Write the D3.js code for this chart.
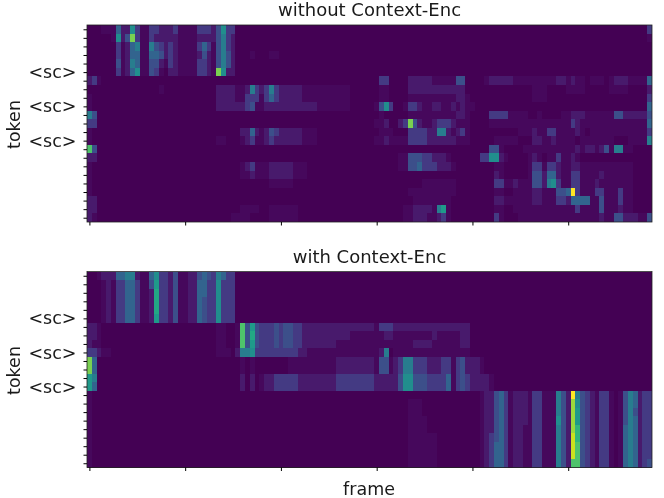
<!DOCTYPE html>
<html>
<head>
<meta charset="utf-8">
<script src="https://cdn.jsdelivr.net/npm/d3@7"></script>
<style>
  html, body { margin: 0; background: #fff; }
  svg { display: block; filter: blur(0.5px); }
  text { font-family: "DejaVu Sans", sans-serif; fill: #1a1a1a; }
</style>
</head>
<body>
<svg id="chart" width="664" height="498"></svg>
<script>
// attention maps, one string per token row, one hex digit per frame (0-f)
const withoutEnc = [
  '0001115227 3113322231 1113332473 3000000000 0000000000 0000000000 0000000000 0000000000 0000000000 0000000000 0000000000 00000003',
  '000001724c 3113222221 1112222463 2000000000 0000000000 0000000000 0000000000 0000000000 0000000000 0000000000 0000000000 00000001',
  '0000003125 6116432321 1113531463 2000000000 0000000000 0000000000 0000000000 0000000000 0000000000 0000000000 0000000000 00000000',
  '0000003125 5115542321 1112421464 2000100011 0000000000 0000000000 0000000000 0000000000 0000000000 0000000000 0000000000 00000000',
  '0000004126 5114421321 1113321464 2000000000 0000000000 0000000000 0000000000 0000000000 0000000000 0000000000 0000000000 00000000',
  '0000003125 7114310221 1113321c72 2000000000 0000000000 0000000000 0000000000 0000000000 0000000000 0000000000 0000000000 00000000',
  '2310000000 0000000000 0000000000 0000000000 0000000000 0000000000 0330000222 2211111440 0001222221 1111111122 1211011101 22211115',
  '0000000000 0000010000 0000000222 2112632363 2222211111 1111100000 0110000222 2222222220 0000000000 0001110000 1111000001 11100002',
  '1000000000 0000000000 0000000222 2113331353 2222211111 1111100000 0110000111 1111111221 0000000000 0001110000 0000000000 00000003',
  '1000000000 0000000000 0000000222 2223411222 2222222211 1111100000 1473001332 1122112121 1000000000 0000000000 0000000000 00000005',
  '6400000000 0000000000 0000000000 0000000000 0000000000 0000000000 0100000111 1111111221 0000333311 1100100001 1222111111 44222224',
  '3300000000 0000000000 0000000000 0000000000 0000000000 0000000000 1120023c42 1123332111 0000111111 1111111111 1321111111 11111115',
  '1000000000 0000000000 0000000000 0022521243 2222211100 0000000000 0111000333 3226621231 0000000000 1112113311 1121011111 11111113',
  '1000000000 0000000000 0000000110 0012311232 2222211100 0000000000 1121111333 3222222111 0000011111 0002211211 1101111111 00011116',
  'b400000000 0000000000 0000000000 0000000000 0000000000 0000000000 0000000000 0000000000 0000441000 0111111111 1121221241 66110000',
  '2200000000 0000000000 0000000000 0000000000 0000000000 0000000000 0000011444 3322210000 0033772100 0012101131 1210000000 00000000',
  '1000000000 0000000000 0000000000 0012311122 2221110000 0000000000 0000011445 3332221000 0000011000 0013313321 1221111111 11110000',
  '1000000000 0000000000 0000000000 0011211122 2221110000 0000000000 0000000000 0000000000 0000021000 0014425521 1331111211 11110000',
  '1000000000 0000000000 0000000000 0000000011 1110000000 0000000000 0000000000 1111111000 0000033112 1114426731 1331112111 11110000',
  '1000000000 0000000000 0000000000 0000000000 0000000000 0000000000 0000000111 1111111000 0000011001 1112211144 5f31113311 13110000',
  '2200000000 0000000000 0000000000 0000000000 0000000000 0000000000 0000000011 1111110000 0000022111 1112211133 2555511411 13110000',
  '2200000000 0000000000 0000000000 0011110011 1111000000 0000000000 0000001122 2216810000 0000011001 1111111111 1131111411 12110000',
  '2100000000 0000000000 0000000000 1111000011 1111000000 0000000000 0000001122 2112310000 0000031000 1111111111 1111111211 44222114'
];
const withEnc = [
  '0012225566 2115733241 1224543653 3000000000 0000000000 0000000000 0000000000 0000000000 0000000000 0000000000 0000000000 00000000',
  '0001213355 3114833241 1225533733 3000000000 0000000000 0000000000 0000000000 0000000000 0000000000 0000000000 0000000000 00000000',
  '0001213355 3112933241 1225533733 3000000000 0000000000 0000000000 0000000000 0000000000 0000000000 0000000000 0000000000 00000000',
  '0001213355 3112933241 1225433733 3000000000 0000000000 0000000000 0000000000 0000000000 0000000000 0000000000 0000000000 00000000',
  '0001213355 3112933241 1225433733 3000000000 0000000000 0000000000 0000000000 0000000000 0000000000 0000000000 0000000000 00000000',
  '0001213355 3112833241 1225433733 3000000000 0000000000 0000000000 0000000000 0000000000 0000000000 0000000000 0000000000 00000000',
  '2210000000 0000000000 0000000110 01b4843334 3443322222 2222222222 1333222222 2222222222 0000000000 0000000000 0000000000 00000000',
  '2210000000 0000000000 0000000110 01b4943334 3443322222 2222211111 1122111111 1121111122 0000000000 0000000000 0000000000 00000000',
  '2110000000 0000000000 0000000110 01b4843334 3443322222 2211111111 1111111122 2211111122 0000000000 0000000000 0000000000 00000000',
  '3321100000 0000000000 0000000111 0266733333 3333221111 1111111111 1260111111 1111111111 0000000000 0000000000 0000000000 00000000',
  'c500000000 0000000000 0000000000 0010100000 0011111111 1122222222 1441236633 3222331342 2210000000 0000000000 0000000000 00000000',
  'c500000000 0000000000 0000000000 0010100000 0011111111 1122222222 1441236633 3222331342 2210000000 0000000000 0000000000 00000000',
  '8600000000 0000000000 0000000000 0020201223 3333222222 2233333333 2222247744 4333351343 2222100000 0000000000 0000000000 00000000',
  '8500000000 0000000000 0000000000 0020201223 3333222222 2233333333 2222247744 4333351343 2222100000 0000000000 0000000000 00000000',
  '1000000000 0000000000 0000000000 0000000000 0000000000 0000000000 0000000000 0000000000 0012245312 2213311164 2f64321331 01465233',
  '1000000000 0000000000 0000000000 0000000000 0000000000 0000000000 0000000111 0000000000 0012245312 2213311164 2d74321331 01465233',
  '1000000000 0000000000 0000000000 0000000000 0000000000 0000000000 0000000111 0000000000 0012245312 2213311164 2d84321331 01464233',
  '1000000000 0000000000 0000000000 0000000000 0000000000 0000000000 0000000111 1000000000 0012245312 2213311174 2d84321331 01465233',
  '1000000000 0000000000 0000000000 0000000000 0000000000 0000000000 0000000111 1000000000 0012245312 2113311164 2da4321331 01565233',
  '1000000000 0000000000 0000000000 0000000000 0000000000 0000000000 0000000111 1110000000 0012345312 2113311164 2ea4321331 01565233',
  '1000000000 0000000000 0000000000 0000000000 0000000000 0000000000 0000000111 1110000000 0012355312 2113311164 2eb4321331 01565233',
  '1000000000 0000000000 0000000000 0000000000 0000000000 0000000000 0000000111 1110000000 0012355312 2113311164 2eb4321331 01565233',
  '1000000000 0000000000 0000000000 0000000000 0000000000 0000000000 0000000111 1110000000 0012355312 2113311164 2bb4321331 01565234'
];
const scRows = [5, 9, 13];
const frameTicks = [0, 20, 40, 60, 80, 100];
const titles = ['without Context-Enc', 'with Context-Enc'];
// what each hex digit means on the colour scale
const levels = [0, 0.02, 0.07, 0.17, 0.24, 0.32, 0.42, 0.49, 0.54, 0.6, 0.66, 0.72, 0.8, 0.85, 0.92, 1];

const rowCount = withoutEnc.length;
const frameCount = 118;

// turn a hex row into numbers
function parseRows(rows) {
  return rows.map(r => r.replace(/ /g, '').split('').map(c => levels[parseInt(c, 16)]));
}

const svg = d3.select('#chart');
const x = d3.scaleLinear().domain([-0.5, frameCount - 0.5]).range([87, 652]);

function drawPanel(rows, title, top, bottom, showFrameLabel) {
  const values = parseRows(rows);
  const y = d3.scaleLinear().domain([-0.5, rowCount - 0.5]).range([top, bottom]);
  const g = svg.append('g');

  // cells, slightly oversized so no seams show between them
  values.forEach((row, r) => {
    g.selectAll(null)
      .data(row)
      .join('rect')
      .attr('x', (d, i) => x(i - 0.5))
      .attr('y', y(r - 0.5))
      .attr('width', x(1) - x(0) + 0.4)
      .attr('height', y(1) - y(0) + 0.4)
      .attr('shape-rendering', 'crispEdges')
      .attr('fill', d => d3.interpolateViridis(d));
  });

  g.append('rect')
    .attr('x', x.range()[0])
    .attr('y', top)
    .attr('width', x.range()[1] - x.range()[0])
    .attr('height', bottom - top)
    .attr('fill', 'none')
    .attr('stroke', '#222')
    .attr('stroke-width', 0.8);

  const yAxis = d3.axisLeft(y)
    .tickValues(d3.range(rowCount))
    .tickSize(3.5)
    .tickPadding(7)
    .tickFormat(d => scRows.includes(d) ? '<sc>' : '');
  const yG = g.append('g').attr('transform', `translate(${x.range()[0]},0)`).call(yAxis);
  yG.select('.domain').remove();
  yG.selectAll('text').style('font-size', '17.5px').attr('fill', '#1a1a1a');

  const xAxis = d3.axisBottom(x)
    .tickValues(frameTicks)
    .tickSize(3.5)
    .tickFormat('');
  const xG = g.append('g').attr('transform', `translate(0,${bottom})`).call(xAxis);
  xG.select('.domain').remove();

  g.append('text')
    .attr('x', (x.range()[0] + x.range()[1]) / 2)
    .attr('y', top - 9)
    .attr('text-anchor', 'middle')
    .style('font-size', '18px')
    .text(title);

  g.append('text')
    .attr('transform', `translate(20,${(top + bottom) / 2 + 1}) rotate(-90)`)
    .attr('text-anchor', 'middle')
    .style('font-size', '17.5px')
    .text('token');

  if (showFrameLabel) {
    g.append('text')
      .attr('x', 369)
      .attr('y', bottom + 27)
      .attr('text-anchor', 'middle')
      .style('font-size', '17.5px')
      .text('frame');
  }
}

drawPanel(withoutEnc, titles[0], 25, 222, false);
drawPanel(withEnc, titles[1], 271.5, 467.5, true);
</script>
</body>
</html>
